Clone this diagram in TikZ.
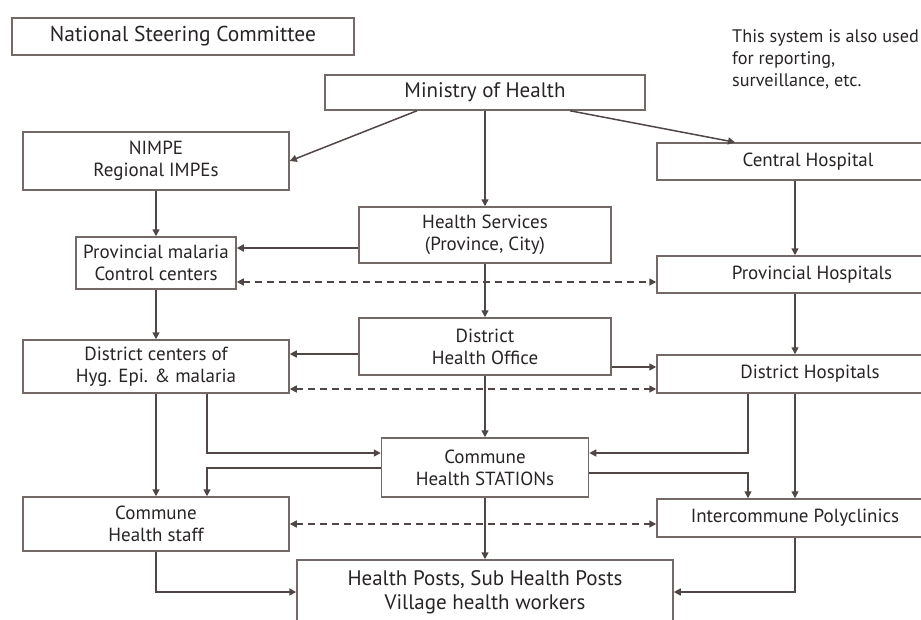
\documentclass[tikz,border=0pt]{standalone}
\usepackage{fontspec}
\setmainfont{PT Sans}
\usetikzlibrary{arrows.meta,calc}
\definecolor{ln}{RGB}{80,70,70}
\definecolor{bx}{RGB}{115,105,103}
\definecolor{tx}{RGB}{40,36,36}
\begin{document}
\begin{tikzpicture}[x=1pt,y=-1pt,
  box/.style={draw=bx,line width=1.5pt,inner sep=0pt,align=center,text=tx,font=\fontsize{19}{22}\selectfont},
  con/.style={draw=ln,line width=1.5pt,-{Triangle[length=7pt,width=7pt]}},
  dcon/.style={con,{Triangle[length=7pt,width=7pt]}-{Triangle[length=7pt,width=7pt]},dash pattern=on 7pt off 5pt}]
\useasboundingbox (0,0) rectangle (921,619);
\clip (0,0) rectangle (921,619);
\coordinate (colL) at (207,0);
\coordinate (colM) at (748,0);
\coordinate (colR) at (795,0);
\node[box,minimum width=342,minimum height=37,font=\fontsize{21.5}{22}\selectfont] (nsc) at (183,36.5) {National Steering Committee};
\node[box,minimum width=320,minimum height=35,font=\fontsize{21}{22}\selectfont] (moh) at (485,92.5) {Ministry of Health};
\node[box,minimum width=266,minimum height=58] (nimpe) at (156,161) {NIMPE\\Regional IMPEs};
\node[box,minimum width=302,minimum height=37] (central) at (808,161.5) {Central Hospital};
\node[box,minimum width=252,minimum height=56] (hs) at (485,235) {Health Services\\(Province, City)};
\node[box,minimum width=160,minimum height=52] (pmc) at (156,263) {Provincial malaria\\Control centers};
\node[box,minimum width=310,minimum height=37] (ph) at (812,274.5) {Provincial Hospitals};
\node[box,minimum width=252,minimum height=57] (dho) at (485,346.5) {District\\Health Office};
\node[box,minimum width=266,minimum height=53] (dc) at (156,366.5) {District centers of\\Hyg. Epi. \& malaria};
\node[box,minimum width=306,minimum height=38] (dh) at (810,374) {District Hospitals};
\node[box,minimum width=207,minimum height=59] (chs) at (485,467.5) {Commune\\Health STATIONs};
\node[box,minimum width=266,minimum height=54] (cs) at (156,524) {Commune\\Health staff};
\node[box,minimum width=276,minimum height=38] (ic) at (795,518) {Intercommune Polyclinics};
\node[box,minimum width=376,minimum height=64,font=\fontsize{21}{24}\selectfont] (hp) at (485,592) {Health Posts, Sub Health Posts\\Village health workers};
\node[anchor=north west,align=left,text=tx,inner sep=0pt,font=\fontsize{18.2}{22}\selectfont] (note) at (732,29) {This system is also used\\for reporting,\\surveillance, etc.};
% connector anchor points
\coordinate (a1) at ([xshift=-68pt]moh.south);
\coordinate (a2) at ([xshift=85pt]moh.south);
\coordinate (a3) at ([xshift=-73pt]central.north);
\coordinate (a4) at ([yshift=-13pt]hs.west);
\coordinate (a5) at ([yshift=-19pt]pmc.east);
\coordinate (a6) at ([yshift=-7.5pt]dho.west);
\coordinate (a7) at ([yshift=-20.5pt]dho.east);
\coordinate (a8) at ([yshift=-22.5pt]dc.east);
\coordinate (a9) at ([yshift=14.5pt]chs.west);
\coordinate (a10) at ([yshift=14.5pt]chs.east);
\coordinate (a11) at ([yshift=-5.5pt]chs.east);
\coordinate (a12) at ([yshift=-0.5pt]chs.west);
% connectors
\draw[con] (a1) -- (nimpe.east);
\draw[con] (a2) -- (a3);
\draw[con] (moh.south) -- (hs.north);
\draw[con] (nimpe.south) -- (pmc.north);
\draw[con] (a4) -- (pmc.east |- a4);
\draw[dcon] (a5) -- (ph.west |- a5);
\draw[con] (central.south -| colR) -- (ph.north -| colR);
\draw[con] (hs.south) -- (dho.north);
\draw[con] (pmc.south) -- (dc.north);
\draw[con] (a6) -- (dc.east |- a6);
\draw[con] (a7) -- (dh.west |- a7);
\draw[dcon] (a8) -- (dh.west |- a8);
\draw[con] (ph.south -| colR) -- (dh.north -| colR);
\draw[con] (dho.south) -- (chs.north);
\draw[con] (dc.south) -- (cs.north);
\draw[con] (dc.south -| colL) |- (a9);
\draw[con] (a12) -| (cs.north -| colL);
\draw[con] (dh.south -| colM) |- (a10);
\draw[con] (a11) -| (ic.north -| colM);
\draw[con] (dh.south -| colR) -- (ic.north -| colR);
\draw[con] (chs.south) -- (hp.north);
\draw[dcon] (cs.east) -- (ic.west |- cs.east);
\draw[con] (cs.south) |- (hp.west);
\draw[con] (ic.south -| colR) |- (hp.east);
\end{tikzpicture}
\end{document}
